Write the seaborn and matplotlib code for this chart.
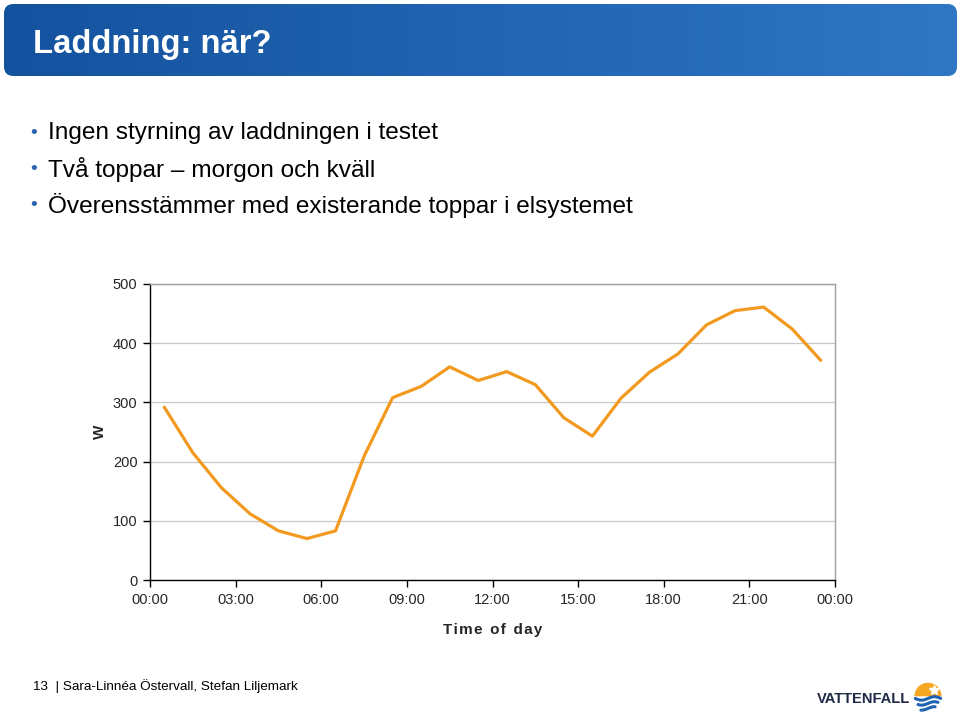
import numpy as np
import pandas as pd
import matplotlib
matplotlib.use("Agg")
import matplotlib.pyplot as plt
from matplotlib.patches import FancyBboxPatch, Wedge
import seaborn as sns

# data (hourly means, plotted at half past each hour)
hours = [0.5, 1.5, 2.5, 3.5, 4.5, 5.5, 6.5, 7.5, 8.5, 9.5, 10.5, 11.5,
         12.5, 13.5, 14.5, 15.5, 16.5, 17.5, 18.5, 19.5, 20.5, 21.5, 22.5, 23.5]
watts = [292, 215, 156, 112, 83, 70, 83, 209, 308, 327, 360, 337,
         352, 330, 274, 243, 307, 351, 382, 431, 455, 461, 424, 371]
tick_hours = [0, 3, 6, 9, 12, 15, 18, 21, 24]
tick_labels = ["00:00", "03:00", "06:00", "09:00", "12:00",
               "15:00", "18:00", "21:00", "00:00"]
y_ticks = [0, 100, 200, 300, 400, 500]

title = "Laddning: när?"
bullets = ["Ingen styrning av laddningen i testet",
           "Två toppar – morgon och kväll",
           "Överensstämmer med existerande toppar i elsystemet"]
footer = "13  | Sara-Linnéa Östervall, Stefan Liljemark"

sns.set_style("white")
plt.rcParams["font.family"] = ["Liberation Sans", "DejaVu Sans"]

W, H = 960, 714
fig = plt.figure(figsize=(W / 100, H / 100), dpi=100)

# --- title bar with gradient ---
bar_ax = fig.add_axes([4 / W, 1 - 76 / H, 953 / W, 72 / H])
bar_ax.set_xlim(0, 1)
bar_ax.set_ylim(0, 1)
bar_ax.axis("off")
grad = np.linspace(0, 1, 256).reshape(1, -1)
cmap = matplotlib.colors.LinearSegmentedColormap.from_list("bar", ["#14529f", "#2f76c3"])
img = bar_ax.imshow(grad, extent=[0, 1, 0, 1], aspect="auto", cmap=cmap)
clip = FancyBboxPatch((0, 0), 1, 1, boxstyle="round,pad=0,rounding_size=0.01",
                      transform=bar_ax.transAxes, facecolor="none", edgecolor="none",
                      mutation_aspect=13)
bar_ax.add_patch(clip)
img.set_clip_path(clip)
fig.text(33 / W, 1 - 44 / H, title, color="white", fontsize=23.6, fontweight="bold",
         va="center", ha="left")

# --- bullets ---
for i, line in enumerate(bullets):
    yy = 1 - (133 + 36 * i) / H
    fig.text(30 / W, yy, "•", color="#2a64b0", fontsize=14, va="center", ha="left")
    fig.text(48 / W, yy, line, color="black", fontsize=17.6, va="center", ha="left")

# --- chart ---
ax = fig.add_axes([150 / W, 1 - 580 / H, 685 / W, 296 / H])
df = pd.DataFrame({"hour": hours, "W": watts})
sns.lineplot(data=df, x="hour", y="W", ax=ax, color="#f29a1f", linewidth=2.3)
ax.set_xlim(0, 24)
ax.set_ylim(0, 500)
ax.set_xticks(tick_hours)
ax.set_xticklabels(tick_labels, fontsize=10.5)
ax.set_yticks(y_ticks)
ax.set_yticklabels([str(v) for v in y_ticks], fontsize=10.5)
ax.yaxis.grid(True, color="#c8c8c8", linewidth=0.9)
ax.xaxis.grid(False)
ax.set_axisbelow(True)
for side in ["top", "right"]:
    ax.spines[side].set_color("#a0a0a0")
    ax.spines[side].set_linewidth(1.0)
for side in ["left", "bottom"]:
    ax.spines[side].set_color("black")
    ax.spines[side].set_linewidth(1.0)
ax.tick_params(axis="both", direction="out", length=5, width=1, color="black",
               left=True, bottom=True, pad=4)
ax.set_xlabel("T i m e  o f  d a y".replace("  ", "\u2002").replace(" ", "\u200a"),
              fontsize=11, fontweight="bold", labelpad=12)
ax.set_ylabel("W", fontsize=11, fontweight="bold", labelpad=4)

# --- footer ---
fig.text(33 / W, 1 - 686 / H, footer, fontsize=9.7, color="black",
         va="center", ha="left")
fig.text(817 / W, 1 - 699 / H, "VATTENFALL", fontsize=10.6, fontweight="bold",
         color="#1f2a44", va="center", ha="left")

# simple logo mark
lg = fig.add_axes([912 / W, 1 - 712 / H, 32 / W, 30 / H])
lg.set_xlim(-1, 1)
lg.set_ylim(-1.1, 1)
lg.set_aspect("equal")
lg.axis("off")
lg.add_patch(Wedge((0, 0), 0.95, 0, 180, facecolor="#f5a623", edgecolor="none"))
lg.plot([0.45], [0.45], marker="*", color="white", markersize=7)
for k, yv in enumerate([-0.15, -0.5, -0.85]):
    xs = np.linspace(-0.9 + 0.2 * k, 0.9 - 0.2 * k, 40)
    lg.plot(xs, yv + 0.12 * np.sin(xs * 3.5), color="#1f63b5", linewidth=2.2)

fig.savefig("out.png", dpi=100)
